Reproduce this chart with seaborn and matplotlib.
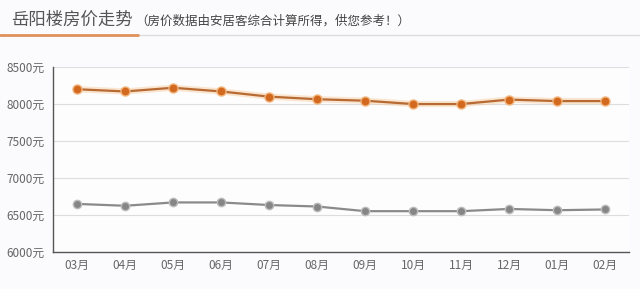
import matplotlib
matplotlib.use("Agg")
import matplotlib.pyplot as plt
import seaborn as sns
import pandas as pd

months = ["03月", "04月", "05月", "06月", "07月", "08月", "09月", "10月", "11月", "12月", "01月", "02月"]
orange_vals = [8200, 8170, 8220, 8170, 8100, 8065, 8045, 8000, 8000, 8060, 8040, 8040]
gray_vals = [6650, 6625, 6670, 6670, 6635, 6615, 6552, 6552, 6552, 6582, 6565, 6575]
yticks = [6000, 6500, 7000, 7500, 8000, 8500]
title = "岳阳楼房价走势"
subtitle = "（房价数据由安居客综合计算所得，供您参考！）"

sns.set_style("white")
plt.rcParams['font.family'] = ['Noto Sans CJK SC', 'DejaVu Sans']

df = pd.DataFrame({"x": list(range(len(months))), "orange": orange_vals, "gray": gray_vals})

fig = plt.figure(figsize=(6.4, 2.89), dpi=100)
fig.patch.set_facecolor("#fbfbfd")
ax = fig.add_axes([0.083, 0.128, 0.9, 0.64])
ax.set_facecolor("#fdfdfe")

# glow
sns.lineplot(data=df, x="x", y="orange", ax=ax, color="#f7c99a", linewidth=4.5, alpha=0.45, zorder=2)
sns.lineplot(data=df, x="x", y="orange", ax=ax, color="#b86a33", linewidth=1.6, marker="o",
             markersize=6.5, markerfacecolor="#d2691e", markeredgecolor="#f0b47c", markeredgewidth=1, zorder=3)
sns.lineplot(data=df, x="x", y="gray", ax=ax, color="#8a8a8a", linewidth=1.6, marker="o",
             markersize=6, markerfacecolor="#868686", markeredgecolor="#bdbdbd", markeredgewidth=1, zorder=3)

ax.set_xlim(-0.5, len(months) - 0.5)
ax.set_ylim(6000, 8500)
ax.set_xticks(range(len(months)))
ax.set_xticklabels(months, fontsize=8.5, color="#666666")
ax.set_yticks(yticks)
ax.set_yticklabels([f"{v}元" for v in yticks], fontsize=8.5, color="#666666")
ax.tick_params(axis="x", length=3, color="#cccccc", pad=2)
ax.tick_params(axis="y", length=0, pad=6)
ax.set_xlabel("")
ax.set_ylabel("")
ax.grid(axis="y", color="#dddddd", linewidth=0.8)
for s in ["top", "right"]:
    ax.spines[s].set_visible(False)
ax.spines["left"].set_color("#555555")
ax.spines["bottom"].set_color("#555555")
ax.spines["left"].set_linewidth(1.0)
ax.spines["bottom"].set_linewidth(1.0)

fig.text(0.018, 0.932, title, fontsize=12.5, color="#555555", va="center", ha="left")
fig.text(0.212, 0.928, subtitle, fontsize=9, color="#444444", va="center", ha="left")
fig.add_artist(plt.Line2D([0, 1], [0.878, 0.878], color="#dddddd", linewidth=1, transform=fig.transFigure))
fig.add_artist(plt.Line2D([0, 0.215], [0.878, 0.878], color="#e0925a", linewidth=2, transform=fig.transFigure))

fig.savefig("out.png", dpi=100, facecolor=fig.get_facecolor())
